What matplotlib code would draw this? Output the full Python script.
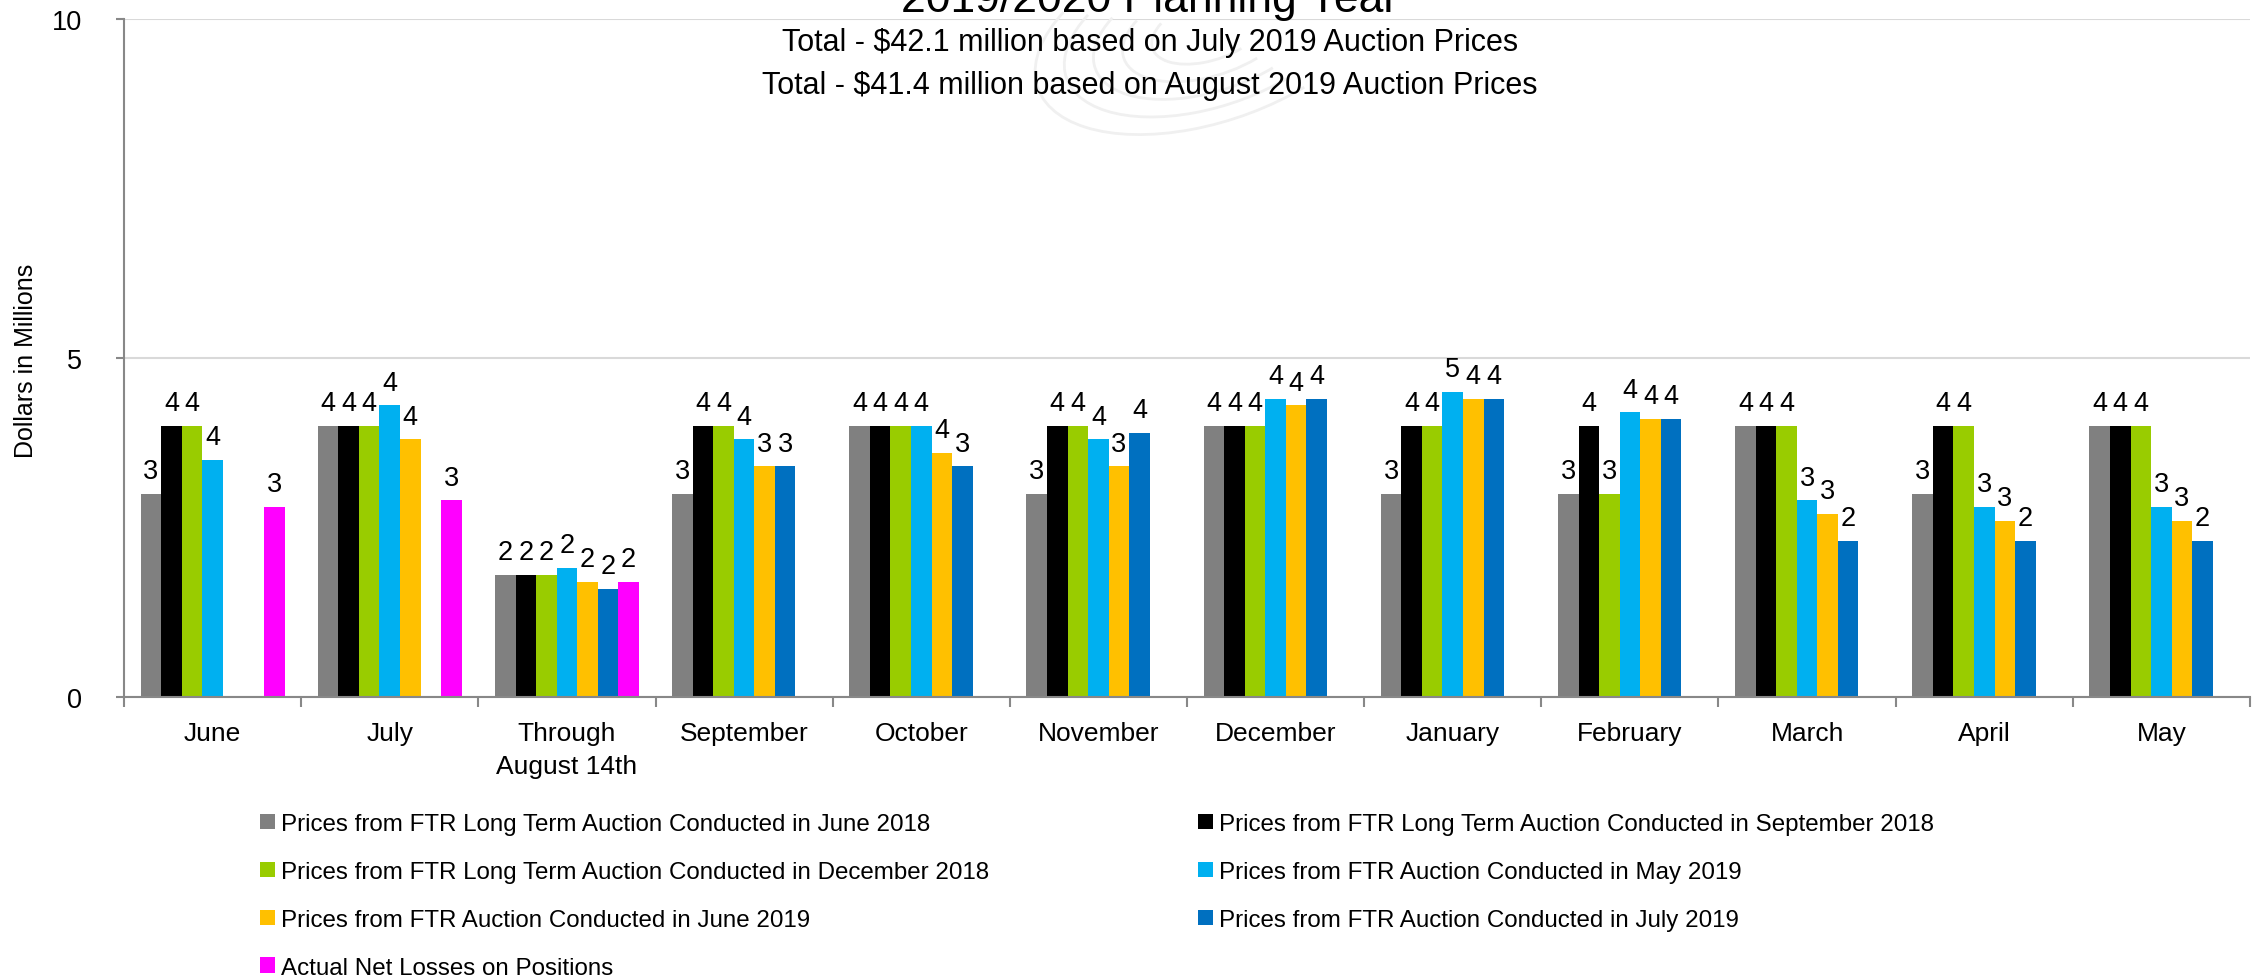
import numpy as np
import matplotlib
matplotlib.use("Agg")
import matplotlib.pyplot as plt
from matplotlib import font_manager
from matplotlib.patches import Arc

# ---------------------------------------------------------------
# data ($ millions)
# ---------------------------------------------------------------
months = ["June", "July", "Through\nAugust 14th", "September", "October",
          "November", "December", "January", "February", "March", "April", "May"]

ltr_jun_2018 = [3.0, 4.0, 1.8, 3.0, 4.0, 3.0, 4.0, 3.0, 3.0, 4.0, 3.0, 4.0]
ltr_sep_2018 = [4.0, 4.0, 1.8, 4.0, 4.0, 4.0, 4.0, 4.0, 4.0, 4.0, 4.0, 4.0]
ltr_dec_2018 = [4.0, 4.0, 1.8, 4.0, 4.0, 4.0, 4.0, 4.0, 3.0, 4.0, 4.0, 4.0]
may_2019 = [3.5, 4.3, 1.9, 3.8, 4.0, 3.8, 4.4, 4.5, 4.2, 2.9, 2.8, 2.8]
jun_2019 = [None, 3.8, 1.7, 3.4, 3.6, 3.4, 4.3, 4.4, 4.1, 2.7, 2.6, 2.6]
jul_2019 = [None, None, 1.6, 3.4, 3.4, 3.9, 4.4, 4.4, 4.1, 2.3, 2.3, 2.3]
actual_losses = [2.8, 2.9, 1.7, None, None, None, None, None, None, None, None, None]

series_names = [
    "Prices from FTR Long Term Auction Conducted in June 2018",
    "Prices from FTR Long Term Auction Conducted in September 2018",
    "Prices from FTR Long Term Auction Conducted in December 2018",
    "Prices from FTR Auction Conducted in May 2019",
    "Prices from FTR Auction Conducted in June 2019",
    "Prices from FTR Auction Conducted in July 2019",
    "Actual Net Losses on Positions",
]
series_values = [ltr_jun_2018, ltr_sep_2018, ltr_dec_2018, may_2019,
                 jun_2019, jul_2019, actual_losses]
series_colors = ["#808080", "#000000", "#99CC00", "#00B0F0",
                 "#FFC000", "#0070C0", "#FF00FF"]

# ---------------------------------------------------------------
# fonts: the chart uses a condensed sans; fall back to regular
# ---------------------------------------------------------------
names = {f.name for f in font_manager.fontManager.ttflist}
if "Liberation Sans Narrow" in names:
    FAMILY, k = "Liberation Sans Narrow", 1.15
else:
    FAMILY, k = "Liberation Sans", 1.0
plt.rcParams["font.family"] = [FAMILY, "Liberation Sans", "DejaVu Sans"]

W, H = 2262, 978
fig = plt.figure(figsize=(W / 100, H / 100), dpi=100)
ax = fig.add_axes([124 / W, 1 - 698 / H, (2250 - 124) / W, (698 - 20) / H])

# faint logo watermark behind the title
for r in [50, 75, 100, 125, 150]:
    fig.patches.append(Arc((1210 / W, 1 - 30 / H), 2 * r / W, 1.5 * r / H,
                           angle=-25, theta1=190, theta2=330,
                           transform=fig.transFigure, color="#F0F0F0",
                           linewidth=2, zorder=0))

x = np.arange(len(months))
bw = 0.116
handles = []
for j, (vals, col) in enumerate(zip(series_values, series_colors)):
    v = np.array([np.nan if a is None else a for a in vals], dtype=float)
    bars = ax.bar(x + (j - 3) * bw, v, width=bw, color=col, linewidth=0)
    handles.append(bars)
    for xi, vi in zip(x + (j - 3) * bw, v):
        if np.isnan(vi):
            continue
        lab = str(int(np.floor(vi + 0.5)))
        ax.annotate(lab, (xi, vi), xytext=(0, 7), textcoords="offset points",
                    ha="center", va="bottom", fontsize=19.5 * k)

ax.set_xlim(-0.5, len(months) - 0.5)
ax.set_ylim(0, 10)
ax.set_yticks([0, 5, 10])
ax.set_xticks(x)
ax.set_xticklabels(months, fontsize=19 * k, linespacing=1.5)
ax.set_xticks(np.arange(len(months) + 1) - 0.5, minor=True)
ax.tick_params(axis="x", which="major", length=0, pad=17)
ax.tick_params(axis="x", which="minor", length=7, width=1.5, color="#888888",
               direction="out")
ax.tick_params(axis="y", length=6, width=1.5, color="#888888",
               labelsize=19.5 * k, pad=24)

ax.grid(axis="y", color="#D9D9D9", linewidth=1.5)
ax.set_axisbelow(True)
for s in ["top", "right"]:
    ax.spines[s].set_visible(False)
for s in ["left", "bottom"]:
    ax.spines[s].set_color("#888888")
    ax.spines[s].set_linewidth(1.5)

# titles
fig.text(1150 / W, 1 - 12 / H, "2019/2020 Planning Year", ha="center",
         va="baseline", fontsize=32 * k)
fig.text(1150 / W, 1 - 51 / H, "Total - $42.1 million based on July 2019 Auction Prices",
         ha="center", va="baseline", fontsize=22 * k)
fig.text(1150 / W, 1 - 94 / H, "Total - $41.4 million based on August 2019 Auction Prices",
         ha="center", va="baseline", fontsize=22 * k)
fig.text(26 / W, 1 - 361 / H, "Dollars in Millions", rotation=90,
         ha="center", va="center", fontsize=18 * k)

# legend: two stacked columns
leg_kw = dict(frameon=False, fontsize=17.4 * k, handlelength=0.6, handleheight=0.6,
              handletextpad=0.25, labelspacing=1.07, borderpad=0, borderaxespad=0,
              loc="upper left")
fig.legend([handles[i] for i in (0, 2, 4, 6)], [series_names[i] for i in (0, 2, 4, 6)],
           bbox_to_anchor=(260 / W, 1 - 814 / H), **leg_kw)
fig.legend([handles[i] for i in (1, 3, 5)], [series_names[i] for i in (1, 3, 5)],
           bbox_to_anchor=(1198 / W, 1 - 814 / H), **leg_kw)

fig.savefig("out.png", dpi=100)
